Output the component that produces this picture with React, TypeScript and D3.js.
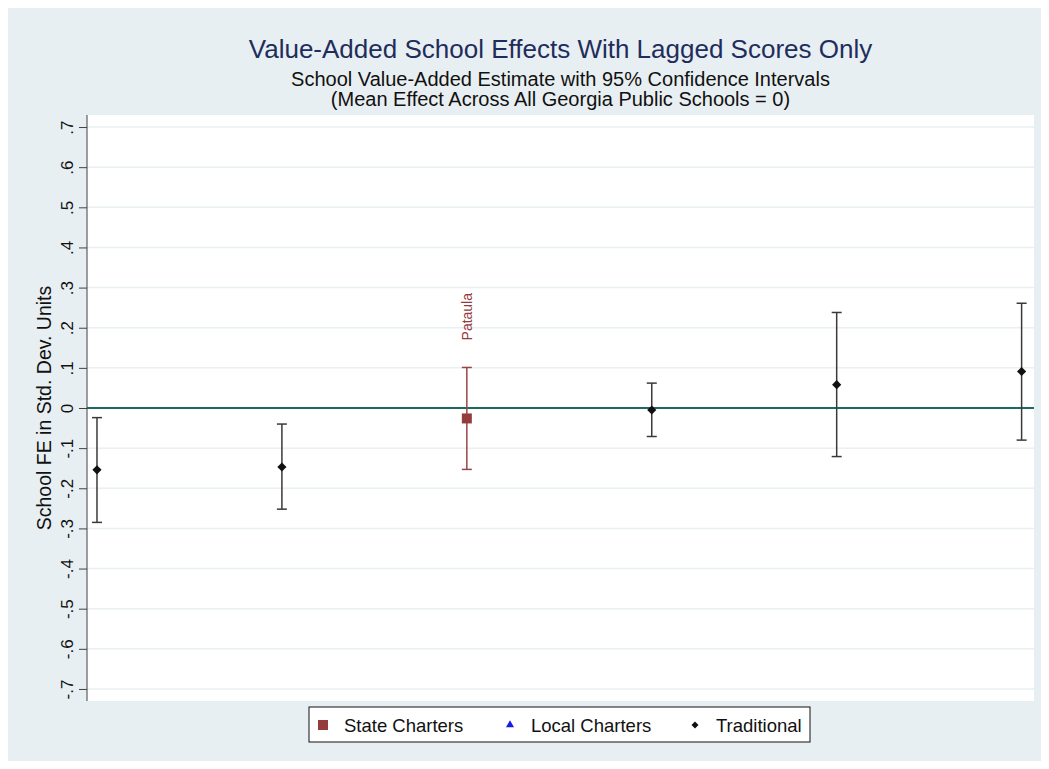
import { useEffect, useRef } from "react";
import * as d3 from "d3";

// one entry per school, ordered left to right
const schoolTypes = ["Traditional", "Traditional", "State Charters", "Traditional", "Traditional", "Traditional"];
const schoolLabels = ["", "", "Pataula", "", "", ""];
const estimates = [-0.154, -0.147, -0.026, -0.005, 0.058, 0.091];
const lowerBounds = [-0.285, -0.252, -0.153, -0.071, -0.121, -0.08];
const upperBounds = [-0.024, -0.04, 0.101, 0.062, 0.238, 0.261];

const yTicks = [0.7, 0.6, 0.5, 0.4, 0.3, 0.2, 0.1, 0, -0.1, -0.2, -0.3, -0.4, -0.5, -0.6, -0.7];
const legendLabels = ["State Charters", "Local Charters", "Traditional"];

const titleText = "Value-Added School Effects With Lagged Scores Only";
const subtitleLines = [
	"School Value-Added Estimate with 95% Confidence Intervals",
	"(Mean Effect Across All Georgia Public Schools = 0)"
];
const yAxisTitle = "School FE in Std. Dev. Units";

const palette: Record<string, string> = {
	"State Charters": "#943c3c",
	"Local Charters": "#1a1ae6",
	Traditional: "#111111"
};
const barColor: Record<string, string> = {
	"State Charters": "#9a4545",
	"Local Charters": "#1a1ae6",
	Traditional: "#3a3a3a"
};

// Stata style: ".7", "-.3", "0"
const fmtTick = (v: number) => {
	if (v === 0) return "0";
	const s = Math.abs(v).toFixed(1).replace(/^0/, "");
	return (v < 0 ? "-" : "") + s;
};

const W = 1049;
const H = 769;
const font = "'Liberation Sans', Arial, sans-serif";

const App = () => {
	const ref = useRef<HTMLDivElement>(null);

	useEffect(() => {
		if (!ref.current) return;
		const container = ref.current;

		const plot = { left: 87, right: 1034, top: 115, bottom: 701 };

		const svg = d3
			.select(container)
			.append("svg")
			.attr("width", W)
			.attr("height", H)
			.style("display", "block")
			.style("font-family", font);

		svg.append("rect").attr("width", W).attr("height", H).attr("fill", "#ffffff");
		svg
			.append("rect")
			.attr("x", 5)
			.attr("y", 7)
			.attr("width", W - 5)
			.attr("height", H - 7)
			.attr("fill", "#e8eff2");

		svg
			.append("rect")
			.attr("x", plot.left)
			.attr("y", plot.top)
			.attr("width", plot.right - plot.left)
			.attr("height", plot.bottom - plot.top)
			.attr("fill", "#ffffff");

		const n = estimates.length;
		const xScale = d3.scaleLinear().domain([0.946, 6.067]).range([plot.left, plot.right]);
		const yScale = d3.scaleLinear().domain([-0.73, 0.73]).range([plot.bottom, plot.top]);

		// gridlines
		svg
			.append("g")
			.selectAll("line")
			.data(yTicks.filter((t) => t !== 0))
			.join("line")
			.attr("x1", plot.left)
			.attr("x2", plot.right)
			.attr("y1", (d) => yScale(d))
			.attr("y2", (d) => yScale(d))
			.attr("stroke", "#e8f0f1")
			.attr("stroke-width", 1.5);

		// zero line
		svg
			.append("line")
			.attr("x1", plot.left)
			.attr("x2", plot.right)
			.attr("y1", yScale(0))
			.attr("y2", yScale(0))
			.attr("stroke", "#1d6a5f")
			.attr("stroke-width", 2);

		// y axis
		const yAxis = svg
			.append("g")
			.attr("transform", `translate(${plot.left},0)`)
			.call(
				d3
					.axisLeft(yScale)
					.tickValues(yTicks)
					.tickSize(8)
					.tickSizeOuter(0)
					.tickFormat((v) => fmtTick(v as number))
			);
		yAxis.select(".domain").attr("stroke", "#404040").attr("d", `M0,${plot.top}V${plot.bottom}`);
		yAxis.selectAll(".tick line").attr("stroke", "#404040");
		yAxis
			.selectAll(".tick text")
			.attr("fill", "#111")
			.attr("font-size", 17)
			.attr("font-family", font)
			.attr("x", null)
			.attr("text-anchor", "middle")
			.attr("transform", "translate(-14,0) rotate(-90)")
			.attr("dy", "0em");

		svg
			.append("text")
			.attr("transform", `translate(51,${(plot.top + plot.bottom) / 2}) rotate(-90)`)
			.attr("text-anchor", "middle")
			.attr("font-size", 19.5)
			.attr("fill", "#111")
			.text(yAxisTitle);

		// error bars
		const idx = d3.range(n);
		const bars = svg.append("g");
		const capHalf = 5;
		idx.forEach((i) => {
			const x = xScale(i + 1);
			const c = barColor[schoolTypes[i]];
			const g = bars.append("g").attr("stroke", c).attr("stroke-width", 1.5);
			g.append("line")
				.attr("x1", x)
				.attr("x2", x)
				.attr("y1", yScale(upperBounds[i]))
				.attr("y2", yScale(lowerBounds[i]));
			[upperBounds[i], lowerBounds[i]].forEach((v) => {
				g.append("line")
					.attr("x1", x - capHalf)
					.attr("x2", x + capHalf)
					.attr("y1", yScale(v))
					.attr("y2", yScale(v));
			});
		});

		const symbolFor = (type: string) =>
			type === "State Charters"
				? d3.symbol().type(d3.symbolSquare).size(100)()
				: type === "Local Charters"
					? d3.symbol().type(d3.symbolTriangle).size(28)()
					: "M0,-4.6L4.6,0L0,4.6L-4.6,0Z";

		svg
			.append("g")
			.selectAll("path")
			.data(idx)
			.join("path")
			.attr("transform", (i) => `translate(${xScale(i + 1)},${yScale(estimates[i])})`)
			.attr("d", (i) => symbolFor(schoolTypes[i]) as string)
			.attr("fill", (i) => palette[schoolTypes[i]]);

		// marker labels
		svg
			.append("g")
			.selectAll("text")
			.data(idx.filter((i) => schoolLabels[i] !== ""))
			.join("text")
			.attr("transform", (i) => `translate(${xScale(i + 1) + 5},${yScale(upperBounds[i]) - 27}) rotate(-90)`)
			.attr("text-anchor", "start")
			.attr("font-size", 14)
			.attr("fill", (i) => palette[schoolTypes[i]])
			.text((i) => schoolLabels[i]);

		// titles
		const cx = (plot.left + plot.right) / 2;
		svg
			.append("text")
			.attr("x", cx)
			.attr("y", 58)
			.attr("text-anchor", "middle")
			.attr("font-size", 26)
			.attr("fill", "#1f2d5c")
			.text(titleText);
		svg
			.append("g")
			.selectAll("text")
			.data(subtitleLines)
			.join("text")
			.attr("x", cx)
			.attr("y", (_, i) => 86 + i * 20)
			.attr("text-anchor", "middle")
			.attr("font-size", 20)
			.attr("fill", "#111")
			.text((d) => d);

		// legend
		const legend = svg.append("g");
		legend
			.append("rect")
			.attr("x", 309)
			.attr("y", 707)
			.attr("width", 501)
			.attr("height", 35)
			.attr("fill", "#ffffff")
			.attr("stroke", "#111")
			.attr("stroke-width", 1);
		const legendX = [323, 510, 695];
		const item = legend
			.selectAll("g.item")
			.data(legendLabels)
			.join("g")
			.attr("class", "item")
			.attr("transform", (_, i) => `translate(${legendX[i]},725)`);
		item
			.append("path")
			.attr("d", (d) => (d === "Traditional" ? "M0,-3.5L3.5,0L0,3.5L-3.5,0Z" : (symbolFor(d) as string)))
			.attr("fill", (d) => palette[d]);
		item
			.append("text")
			.attr("x", 21)
			.attr("y", 7)
			.attr("font-size", 18.5)
			.attr("fill", "#111")
			.text((d) => d);

		return () => {
			svg.remove();
		};
	}, []);

	return <div ref={ref} style={{ margin: -8, width: W, height: H }} />;
};

export default App;
